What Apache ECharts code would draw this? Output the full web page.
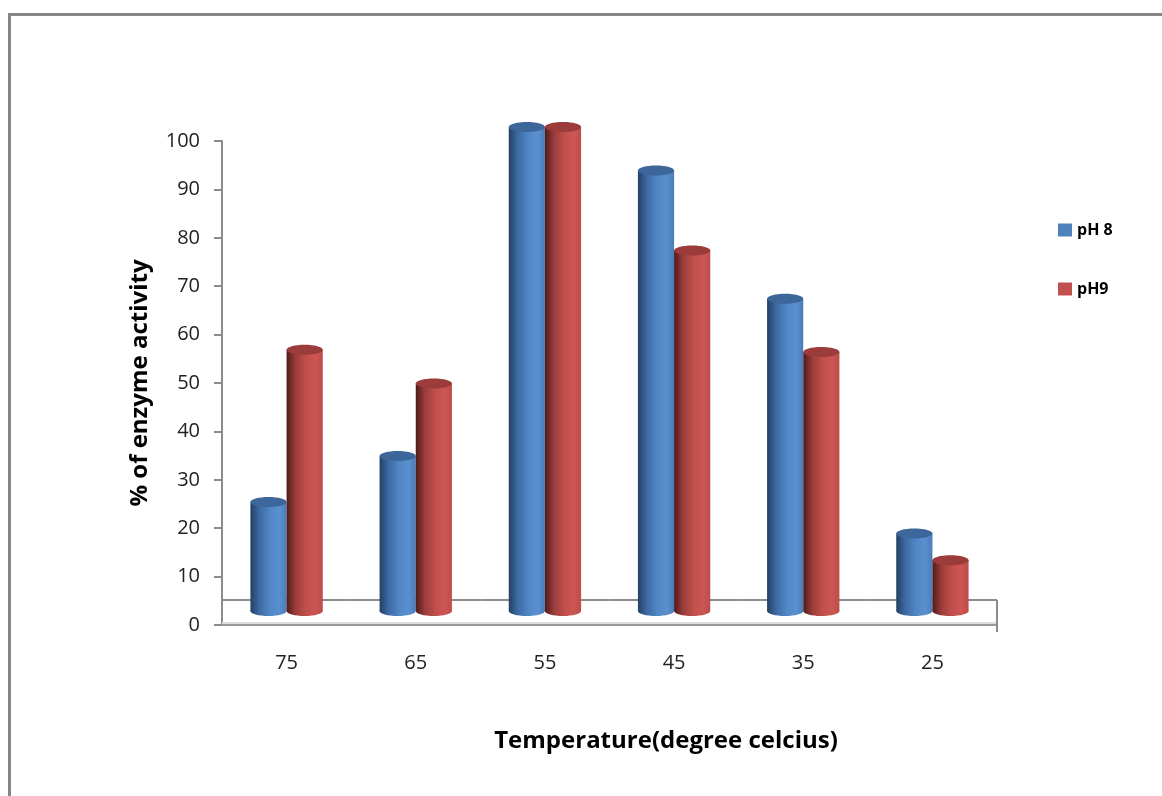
<!DOCTYPE html>
<html>
<head>
<meta charset="utf-8">
<script src="https://cdn.jsdelivr.net/npm/echarts@6/dist/echarts.min.js"></script>
<style>
html,body{margin:0;padding:0;background:#fff;}
#c{width:1162px;height:796px;}
</style>
</head>
<body>
<div id="c"></div>
<script>
const categories = ['75', '65', '55', '45', '35', '25'];
const seriesNames = ['pH 8', 'pH9'];
const ph8 = [22.5, 32, 100, 91, 64.5, 16];
const ph9 = [54, 47, 100, 74.5, 53.5, 10.5];
const yTicks = [0, 10, 20, 30, 40, 50, 60, 70, 80, 90, 100];

const FONT = '"Open Sans", "Liberation Sans", Arial, sans-serif';
const palettes = [
  {legend: '#4f81bd', top: '#3d679a', stops: ['#243f63', '#3d6aa3', '#5287c6', '#5b90d0', '#4a7cb9']},
  {legend: '#c0504d', top: '#9b3c3a', stops: ['#4e1b1a', '#9a3d3b', '#c24f4c', '#cc5653', '#bd4c49']}
];

function makeRender(sIdx) {
  return function (params, api) {
    const idx = api.value(0);
    const val = api.value(1);
    const band = api.size([1, 0])[0];
    const barW = band * 0.28;
    const c = api.coord([idx, val]);
    const c0 = api.coord([idx, 0]);
    const lift = 14;
    const x = sIdx === 0 ? c[0] - barW : c[0];
    const topY = c[1] - lift;
    const baseY = c0[1] - lift;
    const ry = 5;
    const p = palettes[sIdx];
    const grad = new echarts.graphic.LinearGradient(0, 0, 1, 0, [
      {offset: 0, color: p.stops[0]},
      {offset: 0.25, color: p.stops[1]},
      {offset: 0.55, color: p.stops[2]},
      {offset: 0.8, color: p.stops[3]},
      {offset: 1, color: p.stops[4]}
    ]);
    const children = [];
    if (sIdx === 0) {
      const left = c0[0] - band / 2;
      const right = c0[0] + band / 2;
      children.push({type: 'line', z2: 0, shape: {x1: left, y1: c0[1] - 25, x2: right, y2: c0[1] - 25},
        style: {stroke: '#8c8c8c', lineWidth: 2}});
      children.push({type: 'line', z2: 0, shape: {x1: left, y1: c0[1] - 2, x2: right, y2: c0[1] - 2},
        style: {stroke: '#dcdcdc', lineWidth: 2}});
      if (idx === categories.length - 1) {
        children.push({type: 'line', z2: 0, shape: {x1: right, y1: c0[1] - 25, x2: right, y2: c0[1] + 7},
          style: {stroke: '#8c8c8c', lineWidth: 2}});
      }
    }
    children.push({type: 'ellipse', z2: 5, shape: {cx: x + barW / 2, cy: baseY, rx: barW / 2, ry: ry},
      style: {fill: grad}});
    children.push({type: 'rect', z2: 6, shape: {x: x, y: topY, width: barW, height: baseY - topY},
      style: {fill: grad}});
    children.push({type: 'ellipse', z2: 7, shape: {cx: x + barW / 2, cy: topY, rx: barW / 2, ry: ry},
      style: {fill: p.top}});
    return {type: 'group', children: children};
  };
}

const chart = echarts.init(document.getElementById('c'), null, {renderer: 'canvas'});
chart.setOption({
  backgroundColor: '#ffffff',
  animation: false,
  graphic: [
    {type: 'rect', shape: {x: 9.5, y: 14.5, width: 1200, height: 820},
      style: {fill: 'none', stroke: '#868686', lineWidth: 3}, silent: true, z: -10}
  ],
  legend: {
    orient: 'vertical',
    left: 1053,
    top: 217,
    itemWidth: 14,
    itemHeight: 13,
    itemGap: 43,
    icon: 'rect',
    textStyle: {fontFamily: FONT, fontWeight: 'bold', fontSize: 16, color: '#000'},
    data: seriesNames
  },
  grid: {left: 222, right: 165, top: 141, bottom: 171, containLabel: false},
  xAxis: {
    type: 'category',
    data: categories,
    name: 'Temperature(degree celcius)',
    nameLocation: 'middle',
    nameGap: 104,
    nameTextStyle: {fontFamily: FONT, fontWeight: 'bold', fontSize: 24, color: '#000',
      padding: [0, 0, 0, 113]},
    axisLine: {lineStyle: {color: '#9a9a9a', width: 2}},
    axisTick: {length: 8, lineStyle: {color: '#8c8c8c', width: 2}, alignWithLabel: false},
    axisLabel: {fontFamily: FONT, fontSize: 20, color: '#222', margin: 28}
  },
  yAxis: {
    type: 'value',
    min: 0,
    max: 100,
    interval: 10,
    name: '% of enzyme activity',
    nameLocation: 'middle',
    nameGap: 70,
    nameRotate: 90,
    nameTextStyle: {fontFamily: FONT, fontWeight: 'bold', fontSize: 24, color: '#000'},
    axisLine: {show: true, lineStyle: {color: '#8c8c8c', width: 2}},
    axisTick: {show: true, length: 8, lineStyle: {color: '#8c8c8c', width: 2}},
    splitLine: {show: false},
    axisLabel: {fontFamily: FONT, fontSize: 20, color: '#222', margin: 22,
      formatter: function (v) { return yTicks.indexOf(v) >= 0 ? String(v) : ''; }}
  },
  series: [
    {name: seriesNames[0], type: 'custom', itemStyle: {color: palettes[0].legend},
      encode: {x: 0, y: 1}, renderItem: makeRender(0), data: ph8.map((v, i) => [i, v])},
    {name: seriesNames[1], type: 'custom', itemStyle: {color: palettes[1].legend},
      encode: {x: 0, y: 1}, renderItem: makeRender(1), data: ph9.map((v, i) => [i, v])}
  ]
});
</script>
</body>
</html>
